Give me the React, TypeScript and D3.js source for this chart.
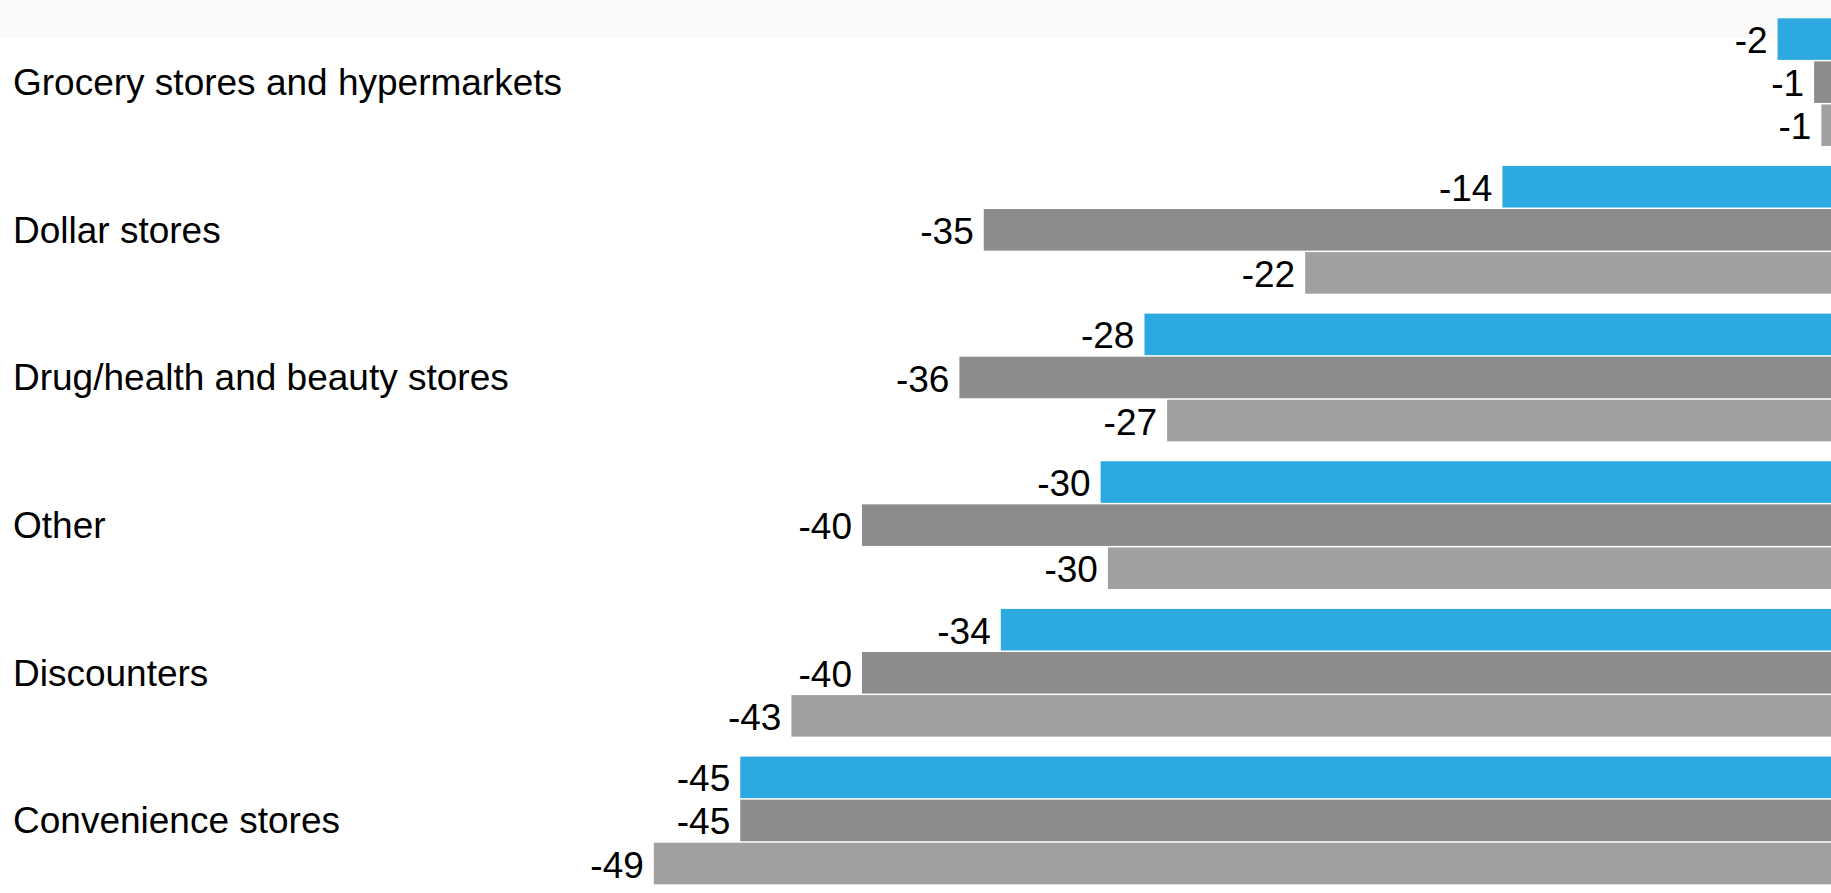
import React from "react";
import * as d3 from "d3";

const categories = [
  "Grocery stores and hypermarkets",
  "Dollar stores",
  "Drug/health and beauty stores",
  "Other",
  "Discounters",
  "Convenience stores",
];
const seriesNames = ["Series A", "Series B", "Series C"];
const seriesA = [-2.4, -13.7, -28.4, -30.2, -34.3, -45.0];
const seriesB = [-0.9, -35.0, -36.0, -40.0, -40.0, -45.0];
const seriesC = [-0.6, -21.8, -27.47, -29.9, -42.9, -48.55];
const seriesColors = ["#2DA9E1", "#8C8C8C", "#A0A0A0"];

const W = 1831;
const H = 893;
const FONT = "'Liberation Sans', Arial, Helvetica, sans-serif";

export default function App() {
  const seriesValues = [seriesA, seriesB, seriesC];
  const x = d3.scaleLinear().domain([0, -50]).range([1836, 1836 - 50 * 24.35]);
  const y = d3
    .scaleBand<string>()
    .domain(categories)
    .range([18.3, 884.3])
    .paddingInner(0.135)
    .paddingOuter(0);
  const yInner = d3
    .scaleBand<string>()
    .domain(seriesNames)
    .range([0, y.bandwidth()])
    .paddingInner(0.035);

  return (
    <svg
      width={W}
      height={H}
      style={{ position: "absolute", left: 0, top: 0, display: "block" }}
      fontFamily={FONT}
    >
      <rect x={0} y={0} width={W} height={H} fill="#ffffff" />
      <rect x={0} y={0} width={W} height={38} fill="#fafafa" />
      {categories.map((cat, i) => {
        const gy = y(cat) as number;
        return (
          <g key={cat}>
            <text
              x={13}
              y={gy + y.bandwidth() / 2}
              dy="0.35em"
              fontSize={37}
              fill="#000"
            >
              {cat}
            </text>
            {seriesNames.map((s, j) => {
              const v = seriesValues[j][i];
              const by = gy + (yInner(s) as number);
              const x0 = x(v);
              const x1 = x(0);
              return (
                <g key={s}>
                  <rect
                    x={x0}
                    y={by}
                    width={x1 - x0}
                    height={yInner.bandwidth()}
                    fill={seriesColors[j]}
                  />
                  <text
                    x={x0 - 10}
                    y={by + yInner.bandwidth() / 2}
                    dy="0.38em"
                    textAnchor="end"
                    fontSize={37}
                    fill="#000"
                  >
                    {`${Math.round(v)}`}
                  </text>
                </g>
              );
            })}
          </g>
        );
      })}
    </svg>
  );
}
